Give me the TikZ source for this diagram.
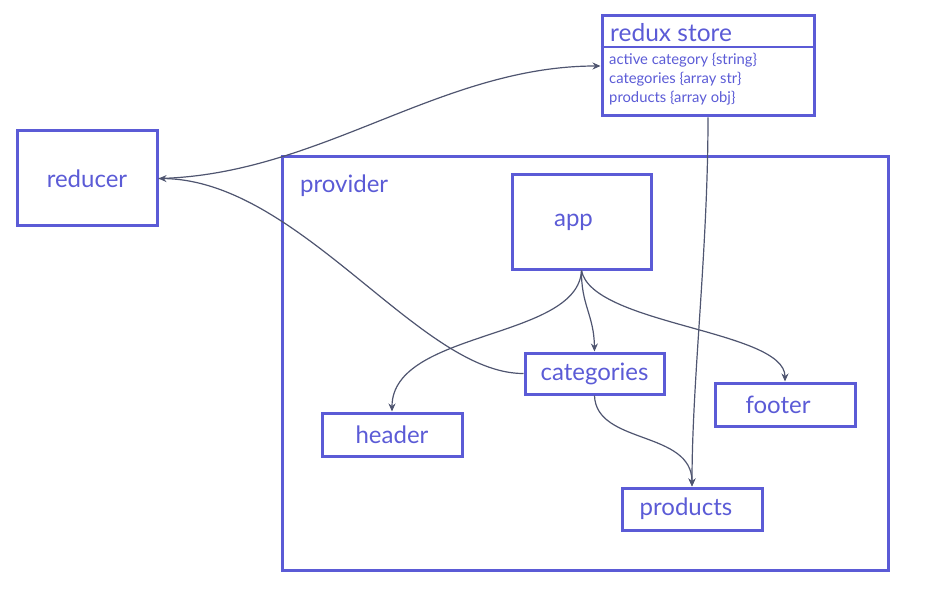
\documentclass[tikz,border=0pt]{standalone}
\usepackage{fontspec}
\setmainfont{Lato}
\usepackage{tikz}
\usetikzlibrary{positioning,arrows.meta}
\definecolor{boxBlue}{HTML}{5B5BD6}
\definecolor{edgeGray}{HTML}{4F5570}
\tikzset{
		boxStyle/.style  = {draw=boxBlue,line width=3pt,rectangle,inner sep=0pt,text=boxBlue,font=\fontsize{24}{28}\selectfont},
		labelStyle/.style= {text=boxBlue,inner sep=0pt,font=\fontsize{24}{28}\selectfont},
		fieldStyle/.style= {text=boxBlue,inner sep=0pt,align=left,font=\fontsize{14.8}{19}\selectfont},
		edgeStyle/.style = {draw=edgeGray,line width=1.2pt,-{Stealth[length=8pt,width=7pt]}}
}
\begin{document}
\begin{tikzpicture}[x=1pt,y=-1pt]
  \useasboundingbox (0,0) rectangle (930,591);

  % Outer provider frame
  \node [boxStyle,minimum width=606pt,minimum height=413pt] (provider) at (585,363.5) {};
  \node [labelStyle,anchor=west] (providerLabel) at (300,186) {provider};

  % Boxes
  \node [boxStyle,minimum width=140pt,minimum height=95pt] (reducer) at (87,178.5) {reducer};
  \node [boxStyle,minimum width=139pt,minimum height=94pt] (app) at (581.5,222) {\hspace*{-16pt}app};
  \node [boxStyle,minimum width=139pt,minimum height=41pt] (categories) at (594.5,373.5) {categories};
  \node [boxStyle,minimum width=140pt,minimum height=43pt] (header) at (392,434.5) {header};
  \node [boxStyle,minimum width=140pt,minimum height=43pt] (footer) at (785,404.5) {\hspace*{-14pt}footer};
  \node [boxStyle,minimum width=140pt,minimum height=42pt] (products) at (692,509) {\hspace*{-12pt}products};

  % Store with its fields
  \node [boxStyle,minimum width=212pt,minimum height=100pt] (store) at (708,66) {};
  \draw [draw=boxBlue,line width=2.4pt] (store.west |- 0,47) -- (store.east |- 0,47);
  \node [labelStyle,anchor=base west,font=\fontsize{24.5}{28}\selectfont] (storeTitle) at (610,42) {redux store};
  \node [fieldStyle,anchor=north west] (storeFields) at (609,53) {active category \{string\}\\categories \{array str\}\\products \{array obj\}};

  % Edges out of app
  \draw [edgeStyle] (app.south) .. controls (581,305) and (594,315) .. (categories.north);
  \draw [edgeStyle] (app.south) .. controls (578,340) and (392,330) .. (header.north);
  \draw [edgeStyle] (app.south) .. controls (592,325) and (785,330) .. (footer.north);

  % Edges to reducer and store
  \draw [edgeStyle] (categories.west) .. controls (420,374) and (300,180) .. (reducer.east);
  \draw [edgeStyle] (reducer.east) .. controls (320,175) and (440,66) .. (store.west);

  % Edges into products
  \draw [edgeStyle] (store.south) .. controls (708,250) and (692,380) .. (products.north);
  \draw [edgeStyle] (categories.south) .. controls (596,445) and (692,430) .. (products.north);
\end{tikzpicture}
\end{document}
